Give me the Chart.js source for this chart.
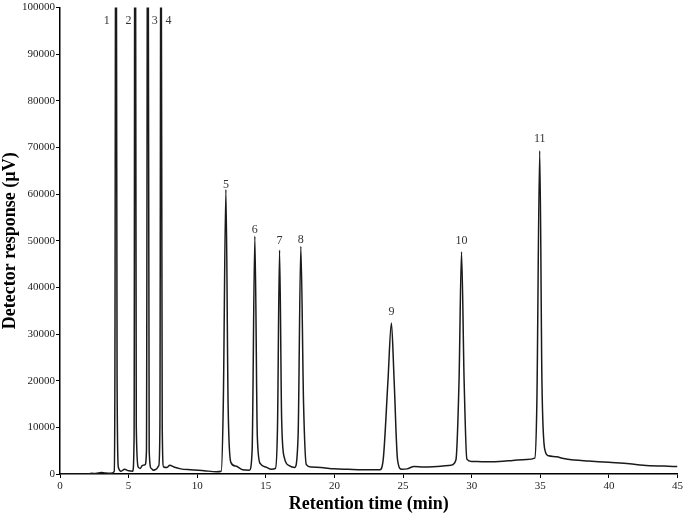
<!DOCTYPE html>
<html>
<head>
<meta charset="utf-8">
<script src="https://cdn.jsdelivr.net/npm/chart.js@4"></script>
<style>
  html, body { margin: 0; padding: 0; background: #fff; }
  #wrap { width: 685px; height: 515px; }
</style>
</head>
<body>
<div id="wrap"><canvas id="chromChart"></canvas></div>
<script>
// retention time (min) and detector response (µV)
const times = [
  0, 2.0, 2.3, 2.6, 3.0, 3.3, 3.7, 3.95, 4.0, 4.08, 4.16, 4.25, 4.45, 4.7, 5.0, 5.3,
  5.4, 5.47, 5.56, 5.7, 5.85, 6.0, 6.2, 6.3, 6.4, 6.5, 6.65, 6.8, 7.0, 7.2,
  7.28, 7.36, 7.45, 7.55, 7.8, 8.0, 8.3, 8.8, 9.5, 10.5, 11.4, 11.75,
  11.9, 12.09, 12.25, 12.45, 12.8, 13.3, 13.8, 14.0, 14.2, 14.38, 14.6, 15.0, 15.4, 15.7,
  15.85, 16.0, 16.15, 16.35, 16.7, 17.1, 17.35, 17.55, 17.75, 17.95, 18.3, 19.0, 20.0, 21.0, 22.0,
  23.3, 23.55, 23.9, 24.15, 24.35, 24.6, 24.9, 25.3, 25.8, 26.5, 27.5, 28.5,
  28.85, 29.08, 29.26, 29.45, 29.65, 30.0, 31.0, 32.0, 33.0, 34.0, 34.6,
  34.75, 34.96, 35.12, 35.35, 35.6, 36.2, 36.7, 37.5, 38.5, 40.0, 41.5, 42.5, 44.0, 45.0
];
const response = [
  0, 0, 150, 100, 300, 200, 150, 500, 20000, 160000, 20000, 1500, 600, 1000, 700, 600,
  8000, 180000, 10000, 1500, 1200, 1800, 2000, 5000, 160000, 5000, 1200, 800, 1000, 1800,
  10000, 140000, 10000, 1500, 1400, 1900, 1500, 1100, 900, 700, 500, 600,
  15000, 61000, 15000, 2500, 1700, 900, 800, 5000, 51000, 8000, 2200, 1500, 1000, 1200,
  10000, 48000, 12000, 3500, 1800, 1400, 8000, 48800, 15000, 2000, 1500, 1400, 1100, 1000, 900,
  900, 3000, 20000, 32400, 20000, 3000, 1000, 1100, 1600, 1500, 1600, 1900,
  3000, 20000, 47600, 20000, 3200, 2700, 2600, 2700, 2900, 3100, 3400,
  15000, 69300, 20000, 5000, 3900, 3700, 3300, 3000, 2800, 2500, 2200, 1900, 1700, 1600
];

// peak numbers and where their labels sit (data units)
const peakLabels = ['1', '2', '3', '4', '5', '6', '7', '8', '9', '10', '11'];
const labelTimes = [3.4, 5.0, 6.9, 7.9, 12.09, 14.2, 16.0, 17.55, 24.15, 29.26, 34.96];
const labelValues = [97200, 97200, 97200, 97200, 62100, 52300, 50000, 50200, 34700, 50000, 71900];

const xTicks = [0, 5, 10, 15, 20, 25, 30, 35, 40, 45];
const yTicks = [0, 10000, 20000, 30000, 40000, 50000, 60000, 70000, 80000, 90000, 100000];

const serif = '"Liberation Serif", "DejaVu Serif", serif';

// draws the peak numbers next to the peaks
const peakLabelPlugin = {
  id: 'peakLabels',
  afterDatasetsDraw(chart) {
    const c = chart.ctx;
    const xs = chart.scales.x, ys = chart.scales.y;
    c.save();
    c.font = '12px ' + serif;
    c.fillStyle = '#333';
    c.textAlign = 'center';
    c.textBaseline = 'middle';
    peakLabels.forEach(function (lab, i) {
      c.fillText(lab, xs.getPixelForValue(labelTimes[i]), ys.getPixelForValue(labelValues[i]));
    });
    c.restore();
  }
};

const ctx = document.getElementById('chromChart').getContext('2d');
const chromChart = new Chart(ctx, {
  type: 'line',
  data: {
    datasets: [{
      data: times.map(function (t, i) { return { x: t, y: response[i] }; }),
      borderColor: '#1a1a1a',
      borderWidth: 1.5,
      pointRadius: 0,
      cubicInterpolationMode: 'monotone',
      fill: false
    }]
  },
  options: {
    responsive: true,
    maintainAspectRatio: false,
    animation: false,
    layout: { padding: { top: 4, right: 7, left: 0, bottom: 0 } },
    plugins: { legend: { display: false }, tooltip: { enabled: false } },
    scales: {
      x: {
        type: 'linear',
        min: 0,
        max: 45,
        afterBuildTicks: function (axis) { axis.ticks = xTicks.map(function (v) { return { value: v }; }); },
        afterFit: function (axis) { axis.height = 41; },
        grid: { drawOnChartArea: false, drawTicks: true, tickLength: 4, color: '#000' },
        border: { display: true, color: '#000', width: 1.5 },
        ticks: {
          color: '#222',
          font: { family: serif, size: 11 },
          padding: 2,
          maxRotation: 0,
          callback: function (v) { return String(v); }
        },
        title: {
          display: true,
          text: 'Retention time (min)',
          color: '#000',
          font: { family: serif, size: 18, weight: 'bold' },
          padding: { top: 0, bottom: 0 }
        }
      },
      y: {
        min: 0,
        max: 100000,
        afterBuildTicks: function (axis) { axis.ticks = yTicks.map(function (v) { return { value: v }; }); },
        afterFit: function (axis) { axis.width = 60; },
        grid: { drawOnChartArea: false, drawTicks: true, tickLength: 4, color: '#000' },
        border: { display: true, color: '#000', width: 1.5 },
        ticks: {
          color: '#222',
          font: { family: serif, size: 11 },
          padding: 1,
          callback: function (v) { return String(v); }
        },
        title: {
          display: true,
          text: 'Detector response (µV)',
          color: '#000',
          font: { family: serif, size: 18, weight: 'bold' },
          padding: { top: 0, bottom: 0 }
        }
      }
    }
  },
  plugins: [peakLabelPlugin]
});
</script>
</body>
</html>
